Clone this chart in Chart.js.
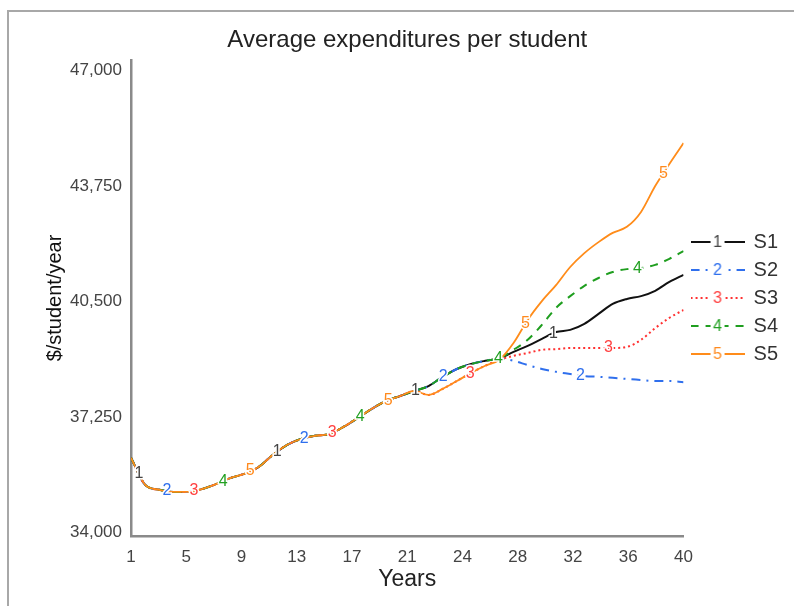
<!DOCTYPE html>
<html>
<head>
<meta charset="utf-8">
<title>Average expenditures per student</title>
<script src="https://cdn.jsdelivr.net/npm/chart.js@4.4.0/dist/chart.umd.min.js"></script>
<style>
  html, body { margin: 0; padding: 0; background: #fff; overflow: hidden; }
  #frame { position: absolute; left: 7px; top: 10px; width: 820px; height: 700px; border: 2px solid #a8a8a8; }
  #chart { position: absolute; left: 0; top: 0; }
</style>
</head>
<body>
<div id="frame"></div>
<canvas id="chart" width="794" height="606"></canvas>
<script>
// years on the x axis
const years = [1, 2, 3, 4, 5, 6, 7, 8, 9, 10, 11, 12, 13, 14, 15, 16, 17, 18, 19, 20,
  21, 22, 23, 24, 25, 26, 27, 28, 29, 30, 31, 32, 33, 34, 35, 36, 37, 38, 39, 40];

// years 1-21, same for every scenario
const sharedStart = [36100, 35340, 35200, 35140, 35140, 35220, 35360, 35530, 35650, 35840,
  36180, 36460, 36630, 36720, 36770, 36970, 37220, 37480, 37700, 37840, 37980];
// years 22-27
const upperMid = [38120, 38380, 38600, 38740, 38830, 38900];   // S1, S2, S4
const lowerMid = [37870, 38040, 38260, 38490, 38690, 38860];   // S3, S5
// years 28-40
const s1Tail = [39080, 39250, 39450, 39640, 39700, 39870, 40150, 40430, 40570, 40650, 40800, 41050, 41250];
const s2Tail = [38830, 38710, 38600, 38520, 38460, 38400, 38380, 38350, 38320, 38290, 38260, 38260, 38230];
const s3Tail = [38970, 39050, 39140, 39160, 39190, 39190, 39190, 39190, 39220, 39420, 39750, 40040, 40260];
const s4Tail = [39140, 39420, 39840, 40320, 40650, 40940, 41160, 41330, 41410, 41440, 41530, 41700, 41920];
const s5Tail = [39330, 39980, 40510, 40960, 41470, 41860, 42170, 42430, 42600, 43020, 43750, 44370, 44960];

const seriesNames = ['S1', 'S2', 'S3', 'S4', 'S5'];
const seriesValues = [
  sharedStart.concat(upperMid, s1Tail),
  sharedStart.concat(upperMid, s2Tail),
  sharedStart.concat(lowerMid, s3Tail),
  sharedStart.concat(upperMid, s4Tail),
  sharedStart.concat(lowerMid, s5Tail)
];

// where the numbers 1..5 sit along the curves (cycling 1,2,3,4,5)
const markerYears = [1.57, 3.54, 5.45, 7.5, 9.41, 11.32, 13.22, 15.2, 17.18, 19.16,
  21.07, 23.04, 24.95, 26.93, 28.84, 30.82, 32.72, 34.7, 36.75, 38.58];

const xTickLabels = ['1', '5', '9', '13', '17', '21', '24', '28', '32', '36', '40'];
const yTicks = [34000, 37250, 40500, 43750, 47000];

const lineColors = ['#111111', '#2f6fed', '#ff3030', '#1f9e1f', '#ff8c1a'];
const numColors = ['#444444', '#2f6fed', '#ff4040', '#22a022', '#ff8a1e'];
const dashes = [[], [9, 6, 2, 6], [2, 3], [8, 7], []];
const widths = [2, 2, 2, 2, 1.8];

const family = '"Liberation Sans", Arial, sans-serif';

function makeIcon(i) {
  const c = document.createElement('canvas');
  c.width = 54;
  c.height = 18;
  const g = c.getContext('2d');
  g.strokeStyle = lineColors[i];
  g.lineWidth = 2;
  g.setLineDash(dashes[i]);
  g.beginPath();
  g.moveTo(0, 9);
  g.lineTo(54, 9);
  g.stroke();
  g.font = '16px ' + family;
  g.textAlign = 'center';
  g.textBaseline = 'middle';
  const w = g.measureText(String(i + 1)).width;
  g.clearRect(27 - w / 2 - 3, 0, w + 6, 18);
  g.fillStyle = numColors[i];
  g.fillText(String(i + 1), 27, 10);
  return c;
}
const icons = seriesNames.map((n, i) => makeIcon(i));

const lineNumbers = {
  id: 'lineNumbers',
  afterDatasetsDraw(chart) {
    const ctx = chart.ctx;
    const xs = chart.scales.x, ys = chart.scales.y;
    ctx.save();
    ctx.font = '16px ' + family;
    ctx.textAlign = 'center';
    ctx.textBaseline = 'middle';
    markerYears.forEach((yr, k) => {
      const i = k % 5;
      const vals = seriesValues[i];
      const j = Math.min(Math.floor(yr) - 1, vals.length - 2);
      const v = vals[j] + (vals[j + 1] - vals[j]) * (yr - years[j]);
      const px = xs.getPixelForValue(yr);
      const py = ys.getPixelForValue(v);
      ctx.lineWidth = 3;
      ctx.strokeStyle = '#fff';
      ctx.strokeText(String(i + 1), px, py);
      ctx.fillStyle = numColors[i];
      ctx.fillText(String(i + 1), px, py);
    });
    ctx.restore();
  }
};

const ctx = document.getElementById('chart').getContext('2d');
const chart = new Chart(ctx, {
  type: 'line',
  data: {
    datasets: seriesValues.map((vals, i) => ({
      label: seriesNames[i],
      data: vals.map((v, k) => ({ x: years[k], y: v })),
      borderColor: lineColors[i],
      backgroundColor: lineColors[i],
      borderWidth: widths[i],
      borderDash: dashes[i],
      pointRadius: 0,
      cubicInterpolationMode: 'monotone',
      fill: false,
      order: 5 - i
    }))
  },
  options: {
    responsive: false,
    animation: false,
    devicePixelRatio: 1,
    layout: { padding: { left: 30, right: 6, top: 20, bottom: 4 } },
    plugins: {
      title: {
        display: true,
        text: 'Average expenditures per student',
        fullSize: false,
        color: '#222',
        font: { size: 24, weight: 'normal', family: family },
        padding: { top: 5.6, bottom: 5.6 }
      },
      legend: {
        position: 'right',
        fullSize: false,
        labels: {
          usePointStyle: true,
          pointStyleWidth: 52,
          padding: 8,
          color: '#333',
          font: { size: 20, family: family },
          generateLabels: (c) => c.data.datasets.map((ds, i) => ({
            text: ds.label,
            pointStyle: icons[i],
            fontColor: '#333',
            fillStyle: 'transparent',
            strokeStyle: 'transparent',
            lineWidth: 0,
            hidden: false,
            datasetIndex: i
          }))
        }
      },
      tooltip: { enabled: false }
    },
    scales: {
      x: {
        type: 'linear',
        min: 1,
        max: 40,
        grid: { display: false, drawTicks: false },
        border: { display: true, color: '#8a8a8a', width: 2.5 },
        afterBuildTicks: (s) => {
          s.ticks = xTickLabels.map((t, i) => ({ value: 1 + i * 39 / (xTickLabels.length - 1) }));
        },
        ticks: {
          autoSkip: false,
          maxRotation: 0,
          padding: 11,
          color: '#444',
          font: { size: 17, family: family },
          callback: (v, i) => xTickLabels[i]
        },
        title: {
          display: true,
          text: 'Years',
          color: '#222',
          font: { size: 23, family: family },
          padding: { top: -12.2, bottom: 8.2 }
        }
      },
      y: {
        min: 33900,
        max: 47295,
        grid: { display: false, drawTicks: false },
        border: { display: true, color: '#8a8a8a', width: 2.5 },
        afterBuildTicks: (s) => {
          s.ticks = yTicks.map(v => ({ value: v }));
        },
        ticks: {
          padding: 9,
          color: '#444',
          font: { size: 17, family: family },
          callback: (v) => v.toLocaleString('en-US')
        },
        title: {
          display: true,
          text: '$/student/year',
          color: '#111',
          font: { size: 20, family: family },
          padding: { top: 13, bottom: -6 }
        }
      }
    }
  },
  plugins: [lineNumbers]
});
</script>
</body>
</html>
